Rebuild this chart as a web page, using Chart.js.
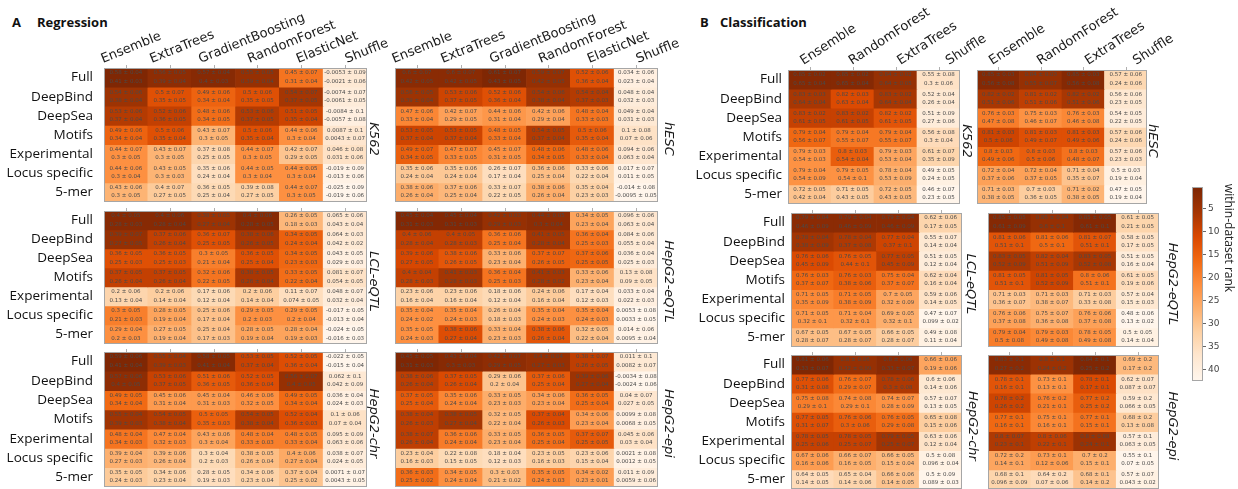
<!DOCTYPE html>
<html>
<head>
<meta charset="utf-8">
<script src="https://cdn.jsdelivr.net/npm/chart.js@4.4.1/dist/chart.umd.min.js"></script>
<style>
  body { margin: 0; background: #fff; width: 1238px; height: 489px; overflow: hidden; position: relative; }
  canvas { position: absolute; left: 0; top: 0; }
  .ttl { position: absolute; font-family: 'Open Sans', sans-serif; font-weight: bold; font-size: 13px; color: #111; }
</style>
</head>
<body>
<div class="ttl" style="left:12px;top:13px">A</div>
<div class="ttl" style="left:37px;top:13px">Regression</div>
<div class="ttl" style="left:700px;top:13px">B</div>
<div class="ttl" style="left:720px;top:13px">Classification</div>

<script>
const regModels = ['Ensemble', 'ExtraTrees', 'GradientBoosting', 'RandomForest', 'ElasticNet', 'Shuffle'];
const clfModels = ['Ensemble', 'RandomForest', 'ExtraTrees', 'Shuffle'];
const featureSets = ['Full', 'DeepBind', 'DeepSea', 'Motifs', 'Experimental', 'Locus specific', '5-mer'];
const rankTicks = [5, 10, 15, 20, 25, 30, 35, 40];

// each cell: [mean, sd, mean2, sd2]  (two metrics shown per cell)
const regK562 = [
  [[.58,.04,.41,.03],[.56,.05,.39,.04],[.57,.04,.4,.03],[.55,.05,.39,.04],[.45,.07,.31,.04],[-.0053,.09,-.0021,.06]],
  [[.54,.06,.38,.04],[.5,.07,.35,.05],[.49,.06,.34,.04],[.5,.06,.35,.05],[.54,.07,.37,.05],[-.0074,.07,-.0061,.05]],
  [[.53,.06,.37,.04],[.52,.06,.36,.05],[.48,.06,.34,.05],[.53,.06,.37,.05],[.51,.05,.35,.04],[-.0084,.1,-.0057,.08]],
  [[.49,.06,.34,.04],[.5,.06,.35,.04],[.43,.07,.3,.05],[.5,.06,.35,.04],[.44,.06,.3,.04],[.0087,.1,.0043,.07]],
  [[.44,.07,.3,.05],[.43,.07,.3,.05],[.37,.08,.25,.05],[.44,.07,.3,.05],[.42,.07,.29,.05],[.046,.08,.031,.06]],
  [[.44,.06,.3,.04],[.43,.05,.3,.03],[.35,.06,.24,.04],[.44,.05,.3,.04],[.44,.05,.3,.04],[-.019,.09,-.013,.06]],
  [[.43,.06,.3,.05],[.4,.07,.27,.05],[.36,.05,.25,.04],[.39,.08,.27,.05],[.44,.07,.3,.05],[-.025,.09,-.019,.06]]
];
const regHESC = [
  [[.6,.07,.42,.05],[.6,.07,.42,.05],[.61,.07,.43,.05],[.59,.07,.42,.05],[.52,.06,.36,.04],[.034,.06,.023,.04]],
  [[.56,.05,.39,.04],[.53,.06,.37,.05],[.52,.06,.36,.04],[.54,.06,.38,.04],[.54,.04,.37,.03],[.048,.04,.032,.03]],
  [[.47,.06,.33,.04],[.42,.07,.29,.05],[.44,.06,.31,.04],[.42,.06,.29,.04],[.48,.04,.33,.03],[.049,.04,.031,.03]],
  [[.53,.05,.37,.04],[.53,.05,.37,.04],[.48,.05,.33,.04],[.54,.05,.37,.04],[.5,.06,.35,.04],[.1,.08,.07,.06]],
  [[.49,.07,.34,.05],[.47,.07,.33,.05],[.45,.07,.31,.05],[.48,.06,.34,.05],[.48,.06,.33,.04],[.094,.06,.063,.04]],
  [[.35,.06,.24,.04],[.35,.06,.24,.04],[.26,.07,.17,.04],[.36,.06,.25,.04],[.33,.06,.22,.04],[.017,.07,.011,.05]],
  [[.38,.06,.26,.04],[.37,.06,.25,.04],[.33,.07,.22,.05],[.38,.06,.26,.04],[.35,.04,.23,.03],[-.014,.08,-.0095,.05]]
];
const regLCL = [
  [[.4,.05,.28,.03],[.4,.06,.28,.04],[.38,.05,.27,.04],[.4,.06,.28,.05],[.26,.05,.18,.03],[.065,.06,.043,.04]],
  [[.39,.07,.27,.05],[.37,.06,.26,.04],[.36,.07,.25,.05],[.38,.06,.26,.05],[.34,.05,.24,.04],[.064,.03,.042,.02]],
  [[.36,.05,.25,.03],[.36,.05,.25,.03],[.3,.05,.21,.04],[.36,.05,.25,.04],[.34,.05,.23,.03],[.043,.05,.029,.03]],
  [[.37,.05,.26,.04],[.37,.05,.26,.04],[.32,.06,.22,.05],[.38,.05,.26,.04],[.33,.05,.22,.04],[.081,.07,.054,.05]],
  [[.2,.06,.13,.04],[.2,.06,.14,.04],[.17,.06,.12,.04],[.2,.06,.14,.04],[.11,.07,.074,.05],[.048,.07,.032,.04]],
  [[.3,.05,.21,.03],[.28,.05,.19,.04],[.25,.06,.17,.04],[.29,.05,.2,.03],[.29,.05,.2,.04],[-.017,.05,-.013,.04]],
  [[.29,.04,.2,.03],[.27,.05,.19,.04],[.25,.04,.17,.03],[.28,.05,.19,.04],[.28,.04,.19,.03],[-.024,.05,-.016,.03]]
];
const regHepEQTL = [
  [[.45,.04,.31,.03],[.45,.04,.31,.03],[.42,.03,.29,.03],[.44,.05,.3,.04],[.34,.05,.23,.04],[.096,.06,.063,.04]],
  [[.4,.06,.28,.04],[.4,.05,.28,.03],[.36,.06,.25,.04],[.41,.05,.28,.04],[.36,.04,.25,.03],[.084,.06,.055,.04]],
  [[.39,.06,.27,.05],[.38,.06,.26,.05],[.33,.06,.23,.04],[.37,.07,.26,.05],[.37,.06,.25,.05],[.036,.04,.025,.03]],
  [[.4,.04,.28,.03],[.41,.03,.28,.03],[.36,.04,.25,.03],[.41,.03,.28,.02],[.33,.06,.23,.04],[.13,.08,.09,.05]],
  [[.23,.06,.16,.04],[.23,.06,.16,.04],[.18,.06,.12,.04],[.24,.06,.16,.04],[.17,.04,.12,.03],[.033,.04,.022,.03]],
  [[.35,.04,.24,.02],[.35,.04,.24,.03],[.26,.04,.18,.03],[.35,.04,.24,.03],[.35,.04,.24,.03],[.0053,.08,.0033,.05]],
  [[.35,.05,.24,.03],[.38,.06,.27,.04],[.33,.04,.23,.03],[.38,.06,.26,.04],[.32,.05,.22,.04],[.014,.06,.0095,.04]]
];
const regHepChr = [
  [[.59,.06,.41,.04],[.55,.04,.39,.03],[.58,.05,.41,.04],[.53,.05,.37,.04],[.52,.05,.36,.04],[-.022,.05,-.015,.04]],
  [[.57,.06,.4,.05],[.53,.06,.37,.05],[.51,.06,.36,.05],[.52,.05,.36,.04],[.56,.07,.4,.05],[.062,.1,.042,.09]],
  [[.49,.05,.34,.04],[.45,.06,.31,.04],[.45,.04,.31,.03],[.46,.06,.32,.05],[.49,.05,.34,.04],[.036,.04,.024,.03]],
  [[.55,.04,.39,.03],[.54,.05,.38,.04],[.5,.05,.35,.03],[.54,.05,.38,.04],[.52,.04,.36,.03],[.1,.06,.07,.04]],
  [[.48,.04,.34,.03],[.47,.04,.32,.03],[.43,.06,.3,.04],[.48,.04,.33,.03],[.48,.05,.33,.04],[.095,.09,.063,.06]],
  [[.39,.04,.27,.03],[.39,.06,.26,.04],[.3,.04,.2,.03],[.38,.05,.26,.04],[.4,.06,.27,.04],[.038,.07,.024,.05]],
  [[.35,.05,.24,.03],[.34,.06,.23,.04],[.28,.05,.19,.03],[.34,.06,.23,.04],[.37,.04,.25,.02],[.0071,.07,.0043,.05]]
];
const regHepEpi = [
  [[.45,.05,.31,.03],[.43,.04,.3,.03],[.42,.07,.29,.05],[.4,.04,.27,.03],[.38,.07,.26,.05],[.011,.1,.0082,.07]],
  [[.38,.06,.26,.04],[.37,.05,.26,.04],[.29,.06,.2,.04],[.37,.06,.25,.04],[.39,.06,.27,.04],[-.0034,.08,-.0024,.06]],
  [[.37,.05,.25,.04],[.35,.06,.24,.04],[.33,.05,.23,.03],[.34,.06,.23,.04],[.36,.05,.25,.04],[.04,.07,.027,.05]],
  [[.38,.04,.26,.03],[.38,.05,.27,.04],[.32,.05,.22,.04],[.37,.04,.26,.03],[.34,.06,.23,.04],[.0099,.08,.0068,.05]],
  [[.38,.07,.26,.04],[.36,.06,.24,.04],[.33,.05,.23,.04],[.36,.05,.25,.04],[.37,.07,.25,.05],[.045,.06,.03,.04]],
  [[.23,.04,.16,.03],[.22,.08,.15,.05],[.18,.04,.12,.03],[.23,.05,.16,.03],[.23,.06,.15,.04],[.0021,.08,.0012,.05]],
  [[.36,.03,.25,.02],[.34,.05,.24,.04],[.3,.03,.21,.02],[.35,.05,.24,.03],[.34,.02,.23,.01],[.011,.09,.0059,.06]]
];

const clfK562 = [
  [[.85,.02,.65,.04],[.85,.02,.65,.04],[.84,.02,.64,.05],[.55,.08,.3,.06]],
  [[.83,.03,.64,.04],[.82,.03,.63,.04],[.83,.02,.64,.04],[.52,.04,.26,.04]],
  [[.83,.02,.61,.05],[.83,.02,.61,.05],[.82,.02,.61,.05],[.51,.09,.27,.06]],
  [[.79,.04,.56,.07],[.79,.04,.55,.07],[.79,.04,.55,.07],[.56,.08,.3,.04]],
  [[.79,.03,.54,.03],[.8,.03,.54,.04],[.79,.03,.53,.04],[.61,.07,.35,.09]],
  [[.79,.04,.54,.09],[.79,.05,.54,.1],[.78,.04,.53,.09],[.49,.05,.24,.05]],
  [[.72,.05,.42,.04],[.71,.05,.43,.05],[.72,.05,.43,.05],[.46,.07,.23,.05]]
];
const clfHESC = [
  [[.85,.03,.56,.08],[.84,.03,.55,.07],[.85,.03,.56,.08],[.57,.06,.24,.06]],
  [[.82,.02,.51,.06],[.81,.02,.51,.06],[.82,.02,.51,.06],[.56,.06,.23,.05]],
  [[.76,.03,.47,.08],[.75,.03,.46,.07],[.76,.03,.46,.08],[.54,.05,.22,.05]],
  [[.81,.03,.5,.06],[.81,.03,.49,.07],[.81,.03,.49,.06],[.57,.06,.24,.06]],
  [[.8,.03,.49,.06],[.8,.03,.5,.06],[.8,.03,.48,.07],[.57,.06,.23,.03]],
  [[.72,.04,.37,.06],[.72,.04,.37,.05],[.71,.04,.35,.07],[.5,.03,.19,.04]],
  [[.71,.03,.38,.05],[.7,.03,.36,.05],[.71,.02,.38,.05],[.47,.05,.19,.04]]
];
const clfLCL = [
  [[.79,.04,.46,.09],[.79,.04,.46,.09],[.79,.04,.46,.09],[.62,.06,.17,.05]],
  [[.78,.04,.38,.09],[.78,.04,.37,.08],[.77,.04,.37,.1],[.55,.07,.14,.04]],
  [[.76,.06,.45,.09],[.76,.05,.44,.1],[.77,.05,.45,.09],[.51,.05,.12,.04]],
  [[.76,.03,.37,.07],[.76,.03,.38,.06],[.75,.04,.37,.07],[.62,.04,.16,.04]],
  [[.71,.05,.35,.09],[.71,.05,.38,.09],[.7,.05,.32,.09],[.59,.06,.14,.05]],
  [[.71,.05,.32,.1],[.71,.04,.32,.1],[.69,.05,.32,.1],[.47,.07,.099,.02]],
  [[.67,.05,.28,.07],[.67,.05,.28,.07],[.66,.05,.28,.07],[.49,.08,.11,.04]]
];
const clfHepEQTL = [
  [[.85,.05,.61,.09],[.85,.04,.6,.1],[.85,.05,.61,.1],[.61,.05,.21,.05]],
  [[.81,.06,.51,.1],[.81,.06,.5,.1],[.81,.07,.51,.1],[.58,.05,.17,.05]],
  [[.83,.05,.52,.09],[.82,.04,.51,.09],[.83,.05,.52,.08],[.51,.05,.16,.04]],
  [[.81,.05,.51,.1],[.81,.05,.52,.09],[.8,.06,.51,.1],[.61,.05,.19,.06]],
  [[.71,.03,.36,.07],[.71,.03,.38,.07],[.71,.03,.33,.08],[.57,.04,.15,.03]],
  [[.76,.06,.37,.08],[.75,.07,.36,.08],[.76,.06,.37,.08],[.48,.06,.13,.02]],
  [[.79,.04,.5,.08],[.79,.03,.49,.08],[.78,.05,.49,.08],[.5,.05,.14,.04]]
];
const clfHepChr = [
  [[.81,.06,.33,.07],[.8,.06,.32,.09],[.8,.06,.33,.07],[.66,.06,.19,.06]],
  [[.77,.06,.31,.08],[.76,.07,.29,.07],[.78,.06,.3,.08],[.6,.06,.14,.06]],
  [[.75,.08,.29,.1],[.74,.08,.29,.1],[.74,.07,.28,.09],[.57,.07,.13,.05]],
  [[.77,.05,.31,.07],[.76,.06,.3,.06],[.76,.05,.29,.08],[.65,.08,.15,.06]],
  [[.78,.05,.25,.06],[.78,.05,.25,.07],[.79,.05,.25,.07],[.63,.06,.12,.04]],
  [[.67,.06,.16,.06],[.66,.07,.16,.05],[.66,.05,.15,.04],[.5,.08,.096,.04]],
  [[.64,.05,.14,.05],[.65,.04,.14,.06],[.66,.06,.14,.05],[.5,.09,.089,.03]]
];
const clfHepEpi = [
  [[.83,.1,.27,.2],[.8,.1,.24,.2],[.84,.1,.25,.2],[.69,.2,.17,.2]],
  [[.78,.1,.16,.1],[.73,.1,.13,.1],[.78,.1,.17,.1],[.62,.07,.087,.07]],
  [[.78,.2,.26,.2],[.76,.2,.21,.1],[.77,.2,.25,.2],[.59,.2,.066,.05]],
  [[.77,.1,.16,.1],[.75,.1,.16,.1],[.77,.1,.15,.1],[.68,.2,.13,.08]],
  [[.8,.07,.23,.1],[.8,.06,.22,.1],[.8,.08,.24,.1],[.57,.1,.063,.05]],
  [[.72,.2,.14,.1],[.73,.1,.12,.06],[.7,.2,.15,.1],[.55,.1,.07,.05]],
  [[.68,.1,.096,.09],[.64,.2,.07,.06],[.68,.1,.14,.2],[.57,.07,.043,.02]]
];

// layout of the 12 heatmaps (page pixels)
const heatmaps = [
  { grid: regK562,    models: regModels, name: 'K562',       x: 104, y: 68,  w: 263, h: 134, nameX: 373,  rowLab: true,  colLab: true,  panel: 'A' },
  { grid: regHESC,    models: regModels, name: 'hESC',       x: 395, y: 68,  w: 263, h: 134, nameX: 668,  rowLab: false, colLab: true,  panel: 'A' },
  { grid: regLCL,     models: regModels, name: 'LCL-eQTL',   x: 104, y: 211, w: 263, h: 133, nameX: 373,  rowLab: true,  colLab: false, panel: 'A' },
  { grid: regHepEQTL, models: regModels, name: 'HepG2-eQTL', x: 395, y: 211, w: 263, h: 133, nameX: 668,  rowLab: false, colLab: false, panel: 'A' },
  { grid: regHepChr,  models: regModels, name: 'HepG2-chr',  x: 104, y: 352, w: 263, h: 135, nameX: 373,  rowLab: true,  colLab: false, panel: 'A' },
  { grid: regHepEpi,  models: regModels, name: 'HepG2-epi',  x: 395, y: 352, w: 263, h: 135, nameX: 668,  rowLab: false, colLab: false, panel: 'A' },
  { grid: clfK562,    models: clfModels, name: 'K562',       x: 788, y: 70,  w: 172, h: 134, nameX: 966,  rowLab: true,  colLab: true,  panel: 'B' },
  { grid: clfHESC,    models: clfModels, name: 'hESC',       x: 977, y: 70,  w: 170, h: 134, nameX: 1152, rowLab: false, colLab: true,  panel: 'B' },
  { grid: clfLCL,     models: clfModels, name: 'LCL-eQTL',   x: 791, y: 213, w: 171, h: 134, nameX: 970,  rowLab: true,  colLab: false, panel: 'B' },
  { grid: clfHepEQTL, models: clfModels, name: 'HepG2-eQTL', x: 988, y: 213, w: 171, h: 134, nameX: 1172, rowLab: false, colLab: false, panel: 'B' },
  { grid: clfHepChr,  models: clfModels, name: 'HepG2-chr',  x: 791, y: 355, w: 171, h: 134, nameX: 972,  rowLab: true,  colLab: false, panel: 'B' },
  { grid: clfHepEpi,  models: clfModels, name: 'HepG2-epi',  x: 988, y: 355, w: 171, h: 134, nameX: 1172, rowLab: false, colLab: false, panel: 'B' }
];
const colLabStyle = {
  A: { angle: 22, dx: -23, step: 5, gap: 5, rowGap: 11 },
  B: { angle: 33, dx: -6, step: 5.5, gap: 5, rowGap: 6 }
};

const W = 1238, H = 489;
const orangeStops = ['#fff5eb', '#fee6ce', '#fdd0a2', '#fdae6b', '#fd8d3c', '#f16913', '#d94801', '#a63603', '#7f2704'];

function hexRgb(h) {
  return [1, 3, 5].map(i => parseInt(h.substr(i, 2), 16));
}
function oranges(t) {
  t = Math.max(0, Math.min(1, t));
  const p = t * (orangeStops.length - 1);
  const i = Math.min(Math.floor(p), orangeStops.length - 2);
  const f = p - i;
  const a = hexRgb(orangeStops[i]), b = hexRgb(orangeStops[i + 1]);
  return 'rgb(' + a.map((v, k) => Math.round(v + (b[k] - v) * f)).join(',') + ')';
}

// colour = within-heatmap rank of the first metric
function rankColors(grid) {
  const cells = [];
  grid.forEach((row, r) => row.forEach((c, j) => cells.push({ r, j, a: c[0], b: c[2] })));
  const sorted = cells.slice().sort((p, q) => (q.a - p.a) || (q.b - p.b));
  const n = sorted.length;
  let i = 0;
  while (i < n) {
    let k = i;
    while (k + 1 < n && sorted[k + 1].a === sorted[i].a && sorted[k + 1].b === sorted[i].b) k++;
    for (let m = i; m <= k; m++) sorted[m].rank = (i + k) / 2 + 1;
    i = k + 1;
  }
  const out = grid.map(row => row.map(() => null));
  cells.forEach(c => { out[c.r][c.j] = oranges(1 - (c.rank - 1) / (n - 1)); });
  return out;
}

const heatmapText = {
  id: 'heatmapText',
  afterDatasetsDraw(chart, args, opts) {
    const hm = opts.hm;
    const ctx = chart.ctx;
    const xs = chart.scales.x, ys = chart.scales.y;
    const area = chart.chartArea;
    ctx.save();
    // cell values
    ctx.fillStyle = '#4a4a4a';
    ctx.font = '5.5px "DejaVu Sans"';
    ctx.textAlign = 'center';
    ctx.textBaseline = 'middle';
    hm.grid.forEach((row, r) => {
      const cy = ys.getPixelForValue(r + 0.5);
      row.forEach((c, j) => {
        const cx = xs.getPixelForValue(j);
        ctx.fillText(c[0] + ' \u00b1 ' + c[1], cx, cy - 4.6);
        ctx.fillText(c[2] + ' \u00b1 ' + c[3], cx, cy + 3.6);
      });
    });
    // frame + top ticks
    ctx.strokeStyle = '#a6a6a6';
    ctx.lineWidth = 1;
    ctx.strokeRect(Math.round(area.left) + 0.5, Math.round(area.top) + 0.5,
      Math.round(area.right - area.left) - 1, Math.round(area.bottom - area.top) - 1);
    ctx.strokeStyle = '#b0b0b0';
    hm.models.forEach((m, j) => {
      const x = Math.round(xs.getPixelForValue(j)) + 0.5;
      ctx.beginPath(); ctx.moveTo(x, area.top); ctx.lineTo(x, area.top - 3); ctx.stroke();
    });
    const st = colLabStyle[hm.panel];
    // model names
    if (hm.colLab) {
      ctx.fillStyle = '#1a1a1a';
      ctx.font = '13px "DejaVu Sans"';
      ctx.textAlign = 'left';
      ctx.textBaseline = 'alphabetic';
      hm.models.forEach((m, j) => {
        ctx.save();
        ctx.translate(xs.getPixelForValue(j) + st.dx + j * st.step, area.top - st.gap);
        ctx.rotate(-st.angle * Math.PI / 180);
        ctx.fillText(m, 0, 0);
        ctx.restore();
      });
    }
    // feature set names
    if (hm.rowLab) {
      ctx.fillStyle = '#111';
      ctx.font = '13.5px "Open Sans"';
      ctx.textAlign = 'right';
      ctx.textBaseline = 'middle';
      featureSets.forEach((f, r) => {
        ctx.fillText(f, area.left - st.rowGap, ys.getPixelForValue(r + 0.5));
      });
    }
    // dataset name
    ctx.fillStyle = '#1a1a1a';
    ctx.font = 'italic 13px "DejaVu Sans"';
    ctx.textAlign = 'center';
    ctx.textBaseline = 'middle';
    ctx.translate(hm.nameX, (area.top + area.bottom) / 2 + 4);
    ctx.rotate(Math.PI / 2);
    ctx.fillText(hm.name, 0, 0);
    ctx.restore();
  }
};

function addCanvas() {
  const cv = document.createElement('canvas');
  cv.width = W; cv.height = H;
  document.body.appendChild(cv);
  return cv.getContext('2d');
}

heatmaps.forEach(hm => {
  const colors = rankColors(hm.grid);
  const datasets = featureSets.map((f, r) => ({
    label: f,
    data: hm.models.map(() => [r, r + 1]),
    backgroundColor: colors[r],
    borderWidth: 0
  }));
  new Chart(addCanvas(), {
    type: 'bar',
    data: { labels: hm.models, datasets: datasets },
    options: {
      responsive: false,
      animation: false,
      layout: { padding: { left: hm.x, top: hm.y, right: W - hm.x - hm.w, bottom: H - hm.y - hm.h } },
      datasets: { bar: { grouped: false, barPercentage: 1, categoryPercentage: 1 } },
      scales: {
        x: { type: 'category', display: false, offset: true },
        y: { type: 'linear', display: false, min: 0, max: featureSets.length, reverse: true }
      },
      plugins: { legend: { display: false }, tooltip: { enabled: false }, heatmapText: { hm: hm } }
    },
    plugins: [heatmapText]
  });
});

// colour bar
const colorBar = {
  id: 'colorBar',
  afterDraw(chart) {
    const ctx = chart.ctx, ys = chart.scales.y, a = chart.chartArea;
    ctx.save();
    const g = ctx.createLinearGradient(0, ys.getPixelForValue(1), 0, ys.getPixelForValue(42));
    orangeStops.slice().reverse().forEach((c, i) => g.addColorStop(i / (orangeStops.length - 1), c));
    ctx.fillStyle = g;
    ctx.fillRect(a.left, a.top, a.right - a.left, a.bottom - a.top);
    ctx.strokeStyle = '#a6a6a6';
    ctx.strokeRect(a.left + 0.5, a.top + 0.5, a.right - a.left - 1, a.bottom - a.top - 1);
    ctx.fillStyle = '#444';
    ctx.font = '9px "DejaVu Sans"';
    ctx.textAlign = 'left';
    ctx.textBaseline = 'middle';
    ctx.strokeStyle = '#666';
    rankTicks.forEach(t => {
      const y = Math.round(ys.getPixelForValue(t)) + 0.5;
      ctx.beginPath(); ctx.moveTo(a.right, y); ctx.lineTo(a.right + 3, y); ctx.stroke();
      ctx.fillText(String(t), a.right + 5, y);
    });
    ctx.fillStyle = '#222';
    ctx.font = '12px "Open Sans"';
    ctx.textAlign = 'center';
    ctx.translate(1228, 238);
    ctx.rotate(Math.PI / 2);
    ctx.fillText('within-dataset rank', 0, 0);
    ctx.restore();
  }
};
new Chart(addCanvas(), {
  type: 'bar',
  data: { labels: [''], datasets: [] },
  options: {
    responsive: false,
    animation: false,
    layout: { padding: { left: 1192, top: 187, right: W - 1203, bottom: H - 381 } },
    scales: {
      x: { display: false },
      y: { type: 'linear', display: false, min: 0.5, max: 42.5, reverse: true }
    },
    plugins: { legend: { display: false }, tooltip: { enabled: false } }
  },
  plugins: [colorBar]
});
</script>
</body>
</html>
